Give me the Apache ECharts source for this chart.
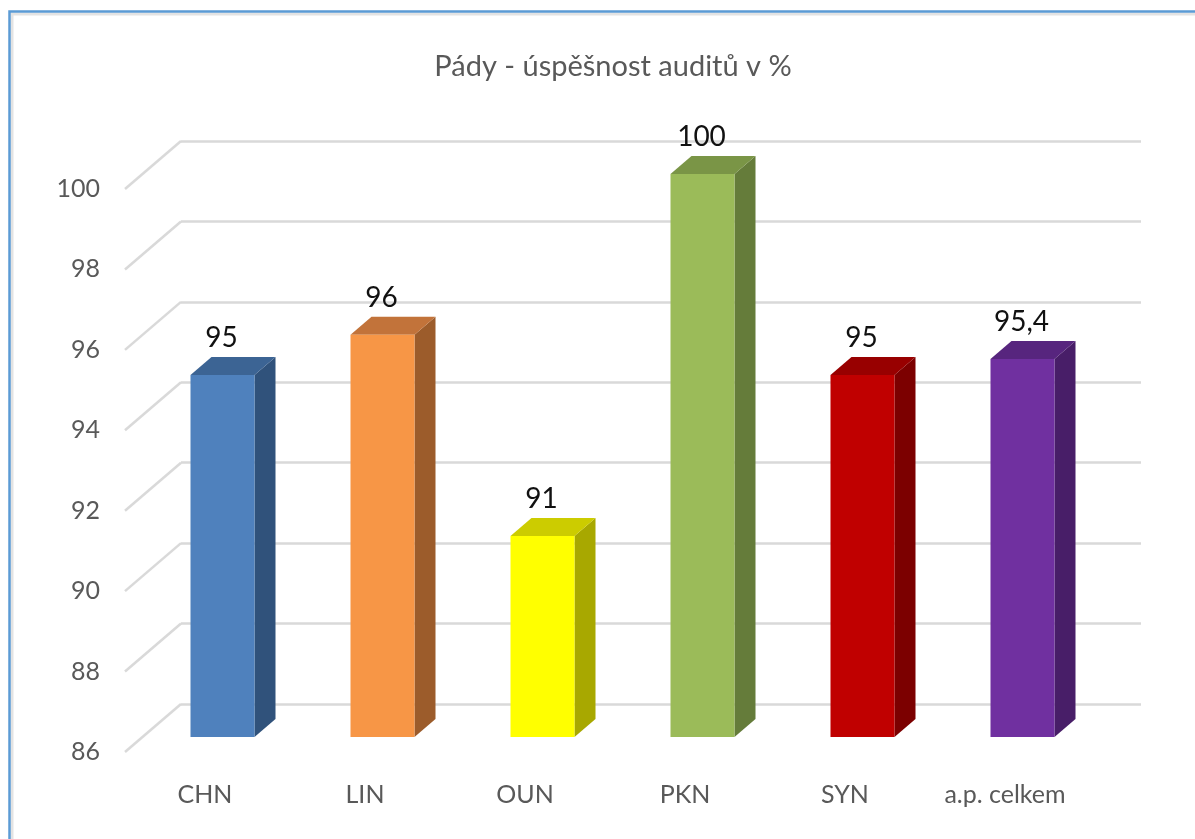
<!DOCTYPE html>
<html>
<head>
<meta charset="utf-8">
<script src="https://cdn.jsdelivr.net/npm/echarts@6/dist/echarts.min.js"></script>
<style>
  html, body { margin: 0; padding: 0; background: #fff; }
  #chart { width: 1195px; height: 839px; }
</style>
</head>
<body>
<div id="chart"></div>
<script>
// data
const categories = ['CHN', 'LIN', 'OUN', 'PKN', 'SYN', 'a.p. celkem'];
const values = [95, 96, 91, 100, 95, 95.4];
const yTicks = [86, 88, 90, 92, 94, 96, 98, 100];

// palette: front / top / side of each bar
const frontColors = ['#4f81bd', '#f79646', '#ffff00', '#9bbb59', '#c00000', '#7030a0'];
const topColors = ['#3c6494', '#c2733a', '#cccc00', '#7a9546', '#980000', '#57257e'];
const sideColors = ['#30527b', '#9c5c2b', '#a8a800', '#657c3a', '#7c0000', '#481e68'];

const FONT = 'Lato, "Open Sans", sans-serif';
const GRID = '#d9d9d9';

// 3D geometry (px): back wall -> front plane, bar faces
const FRONT_DX = -56, FRONT_DY = 48;
const BAR_DX = -38.5, BAR_DY = 33;
const DEPTH_X = 21, DEPTH_Y = -18;
const BAR_W = 64;

const fmt = v => String(v).replace('.', ',');

const chart = echarts.init(document.getElementById('chart'), null, { renderer: 'canvas' });

// diagonal lines of the side wall, one per tick
function renderDiag(params, api) {
  const p = api.coord([0, api.value(1)]);
  const x = params.coordSys.x;
  return {
    type: 'line',
    shape: { x1: x + FRONT_DX, y1: p[1] + FRONT_DY, x2: x, y2: p[1] },
    style: { stroke: GRID, lineWidth: 2.5 },
    silent: true
  };
}

function renderBar(params, api) {
  const i = api.value(0);
  const v = api.value(1);
  const base = api.coord([i, yTicks[0]]);
  const top = api.coord([i, v]);
  const cx = base[0] + BAR_DX;
  const x0 = cx - BAR_W / 2, x1 = cx + BAR_W / 2;
  const yT = top[1] + BAR_DY, yB = base[1] + BAR_DY;
  return {
    type: 'group',
    children: [
      {
        type: 'polygon',
        shape: { points: [[x1, yT], [x1 + DEPTH_X, yT + DEPTH_Y], [x1 + DEPTH_X, yB + DEPTH_Y], [x1, yB]] },
        style: { fill: sideColors[i] }
      },
      {
        type: 'polygon',
        shape: { points: [[x0, yT], [x0 + DEPTH_X, yT + DEPTH_Y], [x1 + DEPTH_X, yT + DEPTH_Y], [x1, yT]] },
        style: { fill: topColors[i] }
      },
      {
        type: 'rect',
        shape: { x: x0, y: yT, width: BAR_W, height: yB - yT },
        style: { fill: frontColors[i] }
      },
      {
        type: 'text',
        x: cx - 1,
        y: yT + DEPTH_Y - 19,
        style: {
          text: fmt(v),
          font: '28px ' + FONT,
          fill: '#111',
          align: 'center',
          verticalAlign: 'middle'
        }
      }
    ]
  };
}

const option = {
  animation: false,
  backgroundColor: '#fff',
  title: {
    text: 'Pády - úspěšnost auditů v %',
    left: 608,
    textAlign: 'center',
    top: 47,
    textStyle: { fontFamily: FONT, fontSize: 29, fontWeight: 'normal', color: '#595959' }
  },
  graphic: [
    {
      type: 'rect',
      shape: { x: 12, y: 14, width: 1300, height: 900 },
      style: { fill: 'none', stroke: '#e3e3e3', lineWidth: 3 },
      silent: true
    },
    {
      type: 'rect',
      shape: { x: 9.5, y: 11.5, width: 1300, height: 900 },
      style: { fill: 'none', stroke: '#5b9bd5', lineWidth: 2.5 },
      silent: true
    }
  ],
  grid: [
    // back wall
    { left: 181, top: 141, width: 960, height: 563, outerBoundsMode: 'none' },
    // front plane (labels)
    { left: 125, top: 189, width: 960, height: 563, outerBoundsMode: 'none' }
  ],
  xAxis: [
    {
      gridIndex: 0, type: 'category', data: categories,
      axisLine: { show: false }, axisTick: { show: false }, axisLabel: { show: false }
    },
    {
      gridIndex: 1, type: 'category', data: categories,
      axisLine: { show: false }, axisTick: { show: false },
      axisLabel: { margin: 30, fontFamily: FONT, fontSize: 25, color: '#595959' }
    }
  ],
  yAxis: [
    {
      gridIndex: 0, type: 'value', min: 86, max: 100, interval: 2,
      axisLine: { show: false }, axisTick: { show: false }, axisLabel: { show: false },
      splitLine: { show: true, lineStyle: { color: GRID, width: 2.5 } }
    },
    {
      gridIndex: 1, type: 'value', min: 86, max: 100, interval: 2,
      axisLine: { show: false }, axisTick: { show: false },
      splitLine: { show: false },
      axisLabel: { margin: 25, fontFamily: FONT, fontSize: 25, color: '#595959' }
    }
  ],
  series: [
    {
      type: 'custom',
      xAxisIndex: 0, yAxisIndex: 0,
      renderItem: renderDiag,
      data: yTicks.map(v => [0, v]),
      z: 1,
      silent: true
    },
    {
      type: 'custom',
      xAxisIndex: 0, yAxisIndex: 0,
      renderItem: renderBar,
      data: values.map((v, i) => [i, v]),
      z: 3
    }
  ]
};

chart.setOption(option);
</script>
</body>
</html>
